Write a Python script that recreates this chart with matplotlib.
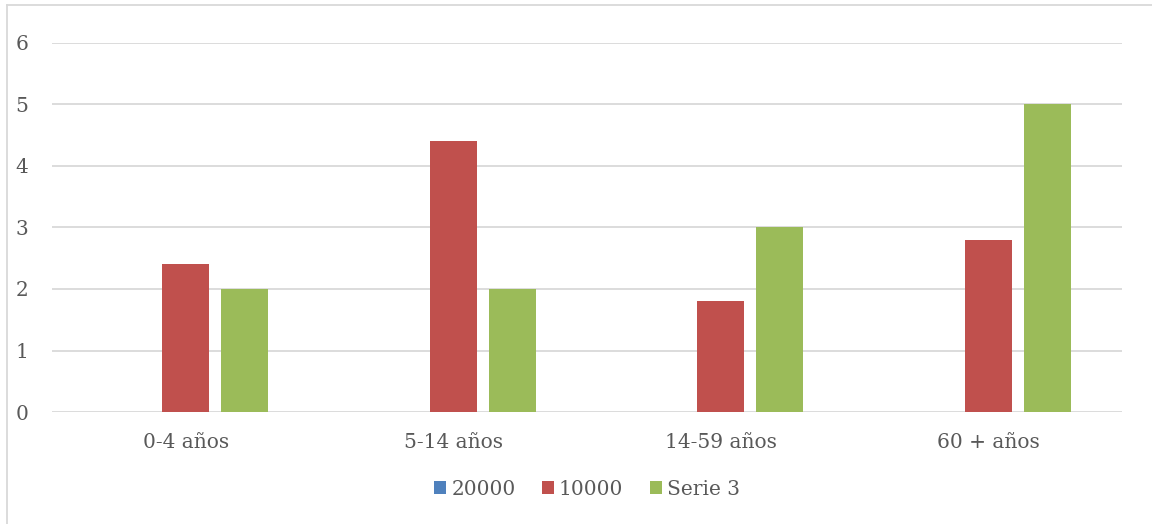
import numpy as np
import matplotlib.pyplot as plt
from matplotlib.lines import Line2D

categories = ['0-4 años', '5-14 años', '14-59 años', '60 + años']
series_names = ['20000', '10000', 'Serie 3']
serie_20000 = [0, 0, 0, 0]
serie_10000 = [2.4, 4.4, 1.8, 2.8]
serie_3 = [2, 2, 3, 5]
colors = ['#4f81bd', '#c0504d', '#9bbb59']

plt.rcParams['font.family'] = ['DejaVu Serif']
text_col = '#595959'

fig = plt.figure(figsize=(11.52, 5.24), dpi=100)
ax = fig.add_axes([52 / 1152, 1 - 412 / 524, 1070 / 1152, 369 / 524])

x = np.arange(len(categories))
w = 0.176
step = 0.22
for i, (vals, name) in enumerate(zip([serie_20000, serie_10000, serie_3], series_names)):
    ax.bar(x + (i - 1) * step, vals, width=w, color=colors[i], label=name, zorder=3)

ax.set_xlim(-0.5, len(categories) - 0.5)
ax.set_ylim(0, 6)
ax.set_yticks(range(7))
ax.set_xticks(x)
ax.set_xticklabels(categories)
ax.grid(axis='y', color='#d9d9d9', linewidth=1.3, zorder=0)
for s in ax.spines.values():
    s.set_visible(False)
ax.tick_params(length=0, colors=text_col, labelsize=14.5)
ax.tick_params(axis='y', pad=17)
ax.tick_params(axis='x', pad=15)

leg = ax.legend(loc='center', bbox_to_anchor=(0.5, -0.21), ncol=3, frameon=False,
                fontsize=14.5, handlelength=0.6, handleheight=0.6, handletextpad=0.25,
                columnspacing=1.3)
for t in leg.get_texts():
    t.set_color(text_col)

# outer chart frame (top and left edges)
fig.add_artist(Line2D([7 / 1152, 7 / 1152], [0, 1 - 5 / 524], color='#d9d9d9', lw=1.3))
fig.add_artist(Line2D([7 / 1152, 1], [1 - 5 / 524, 1 - 5 / 524], color='#d9d9d9', lw=1.3))

fig.savefig('out.png', dpi=100)
